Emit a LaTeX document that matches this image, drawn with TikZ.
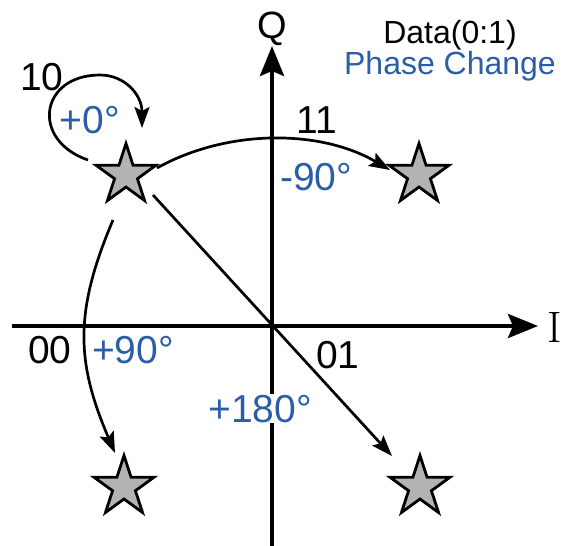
\documentclass[tikz,border=0pt]{standalone}
\usepackage{fontspec}
\newfontfamily\labsans{Liberation Sans}
\usetikzlibrary{shapes.geometric,arrows.meta}
\definecolor{pblue}{RGB}{44,94,168}
\definecolor{stargray}{RGB}{179,179,179}
\tikzset{
  starnode/.style={star, star points=5, star point ratio=2.618, minimum size=63pt,
    inner sep=0pt, draw=black, line width=2.8pt, fill=stargray},
  axisline/.style={line width=4pt, -{Stealth[length=30pt,width=24pt,inset=5pt]}},
  conn/.style={line width=2.7pt, -{Stealth[length=21pt,width=15pt,inset=4pt]}},
  lab/.style={font=\labsans\fontsize{39}{39}\selectfont, anchor=base, inner sep=0pt},
  blab/.style={lab, text=pblue},
  legend/.style={font=\labsans\fontsize{32}{32}\selectfont, anchor=base, inner sep=0pt},
}
\begin{document}
\begin{tikzpicture}[x=1pt,y=1pt]
\useasboundingbox (0,0) rectangle (563,-546);
% axes
\coordinate (xl) at (12,-326);
\coordinate (xr) at (538,-326);
\coordinate (yb) at (272,-546);
\coordinate (yt) at (272,-46);
\draw[axisline] (xl) -- (xr);
\draw[axisline] (yb) -- (yt);
% stars
\node[starnode] (s10) at (126,-175) {};
\node[starnode] (s11) at (419,-175) {};
\node[starnode] (s00) at (124,-487) {};
\node[starnode] (s01) at (420,-487) {};
% connector ends
\coordinate (a0) at (88,-160);
\coordinate (a1) at (100,-75);
\coordinate (a2) at (142,-128);
\coordinate (b0) at (157,-168);
\coordinate (b1) at (390,-170);
\coordinate (c0) at (153,-195);
\coordinate (c1) at (392,-456);
\coordinate (d0) at (113,-220);
\coordinate (d1) at (115,-453);
% connectors
\draw[conn] (a0) .. controls (30,-140) and (40,-75) .. (a1)
  .. controls (125,-75) and (142,-95) .. (a2);
\draw[conn] (b0) .. controls (227,-129) and (320,-129) .. (b1);
\draw[conn] (c0) -- (c1);
\draw[conn] (d0) .. controls (74,-312) and (76,-362) .. (d1);
% labels
\node[lab] (l10) at (42,-90) {10};
\node[blab] (p0) at (90,-133) {+0°};
\node[lab] (l11) at (317,-133) {11};
\node[blab] (m90) at (316,-190) {-90°};
\node[lab] (l00) at (50,-363) {00};
\node[blab] (p90) at (133,-363) {+90°};
\node[lab] (l01) at (338,-368) {01};
\node[blab, fill=white, inner sep=1pt] (p180) at (260,-422) {+180°};
\node[legend] (data) at (450,-43) {Data(0:1)};
\node[legend, text=pblue] (pc) at (450,-74) {Phase Change};
\node[font=\labsans\fontsize{38}{38}\selectfont, anchor=base, inner sep=0pt] (q) at (272,-38) {Q};
\node[font=\rmfamily\fontsize{44}{44}\selectfont, anchor=base, inner sep=0pt] (i) at (555,-342) {I};
\end{tikzpicture}
\end{document}
